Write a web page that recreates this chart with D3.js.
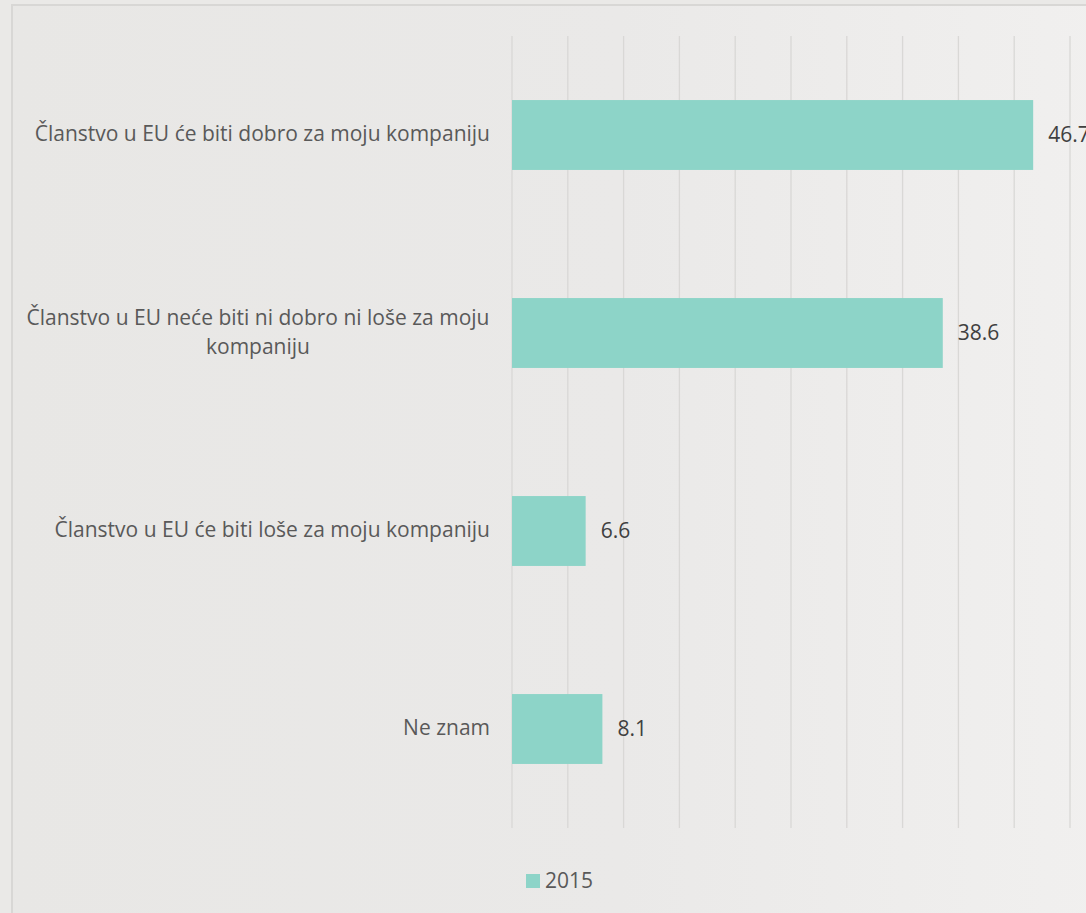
<!DOCTYPE html>
<html><head><meta charset="utf-8">
<script src="https://cdn.jsdelivr.net/npm/d3@7"></script>
<style>html,body{margin:0;padding:0;background:#eae9e7;}svg{display:block;}</style>
</head><body>
<script>
const categories = [
  ["Članstvo u EU će biti dobro za moju kompaniju"],
  ["Članstvo u EU neće biti ni dobro ni loše za moju", "kompaniju"],
  ["Članstvo u EU će biti loše za moju kompaniju"],
  ["Ne znam"]
];
const values2015 = [46.7, 38.6, 6.6, 8.1];
const seriesName = "2015";
const xTicks = [0,5,10,15,20,25,30,35,40,45,50];

const W = 1086, H = 913;
const FS = 21;
const svg = d3.select("body").append("svg").attr("width", W).attr("height", H);
const defs = svg.append("defs");
const grad = defs.append("linearGradient").attr("id","bg").attr("x1","0").attr("x2","1").attr("y1","0").attr("y2","0");
grad.append("stop").attr("offset","0").attr("stop-color","#e8e7e5");
grad.append("stop").attr("offset","0.55").attr("stop-color","#eae9e8");
grad.append("stop").attr("offset","1").attr("stop-color","#f1f0ef");

svg.append("rect").attr("width",W).attr("height",H).attr("fill","#eae9e7");
svg.append("rect").attr("x",12).attr("y",5).attr("width",W+20).attr("height",H+20)
  .attr("fill","url(#bg)").attr("stroke","#d8d7d5").attr("stroke-width",2);

const x = d3.scaleLinear().domain([0,50]).range([512,1070]);
const y = d3.scaleBand().domain(d3.range(categories.length)).range([36,828]).paddingInner(0.647).paddingOuter(0.3235);

const g = svg.append("g");
g.selectAll("line.grid").data(xTicks).join("line")
  .attr("x1",d=>x(d)).attr("x2",d=>x(d)).attr("y1",36).attr("y2",828)
  .attr("stroke","#d9d8d6").attr("stroke-width",1.3);

g.selectAll("rect.bar").data(values2015).join("rect")
  .attr("x",x(0)).attr("y",(d,i)=>y(i)).attr("width",d=>x(d)-x(0)).attr("height",y.bandwidth())
  .attr("fill","#8dd4c8");

g.selectAll("text.val").data(values2015).join("text")
  .attr("x",d=>x(d)+15).attr("y",(d,i)=>y(i)+y.bandwidth()/2)
  .attr("dy","0.35em").attr("font-family","Open Sans").attr("font-size",FS).attr("fill","#404040")
  .text(d=>d.toFixed(1));

categories.forEach((lines,i)=>{
  const cy = y(i)+y.bandwidth()/2 - 1;
  const lh = 29;
  const t = g.append("text").attr("text-anchor","middle").attr("font-family","Open Sans")
    .attr("font-size",FS).attr("fill","#595959");
  lines.forEach((ln,j)=>{
    t.append("tspan").attr("x", 258).attr("y", cy + (j-(lines.length-1)/2)*lh).attr("dy","0.35em").text(ln);
  });
  if(lines.length===1){ t.attr("text-anchor","end"); t.selectAll("tspan").attr("x",490); }
});

const lg = svg.append("g");
lg.append("rect").attr("x",526).attr("y",874).attr("width",14).attr("height",14).attr("fill","#8dd4c8");
lg.append("text").attr("x",545).attr("y",881).attr("dy","0.35em").attr("font-family","Open Sans")
  .attr("font-size",FS).attr("fill","#595959").text(seriesName);
</script>
</body></html>
